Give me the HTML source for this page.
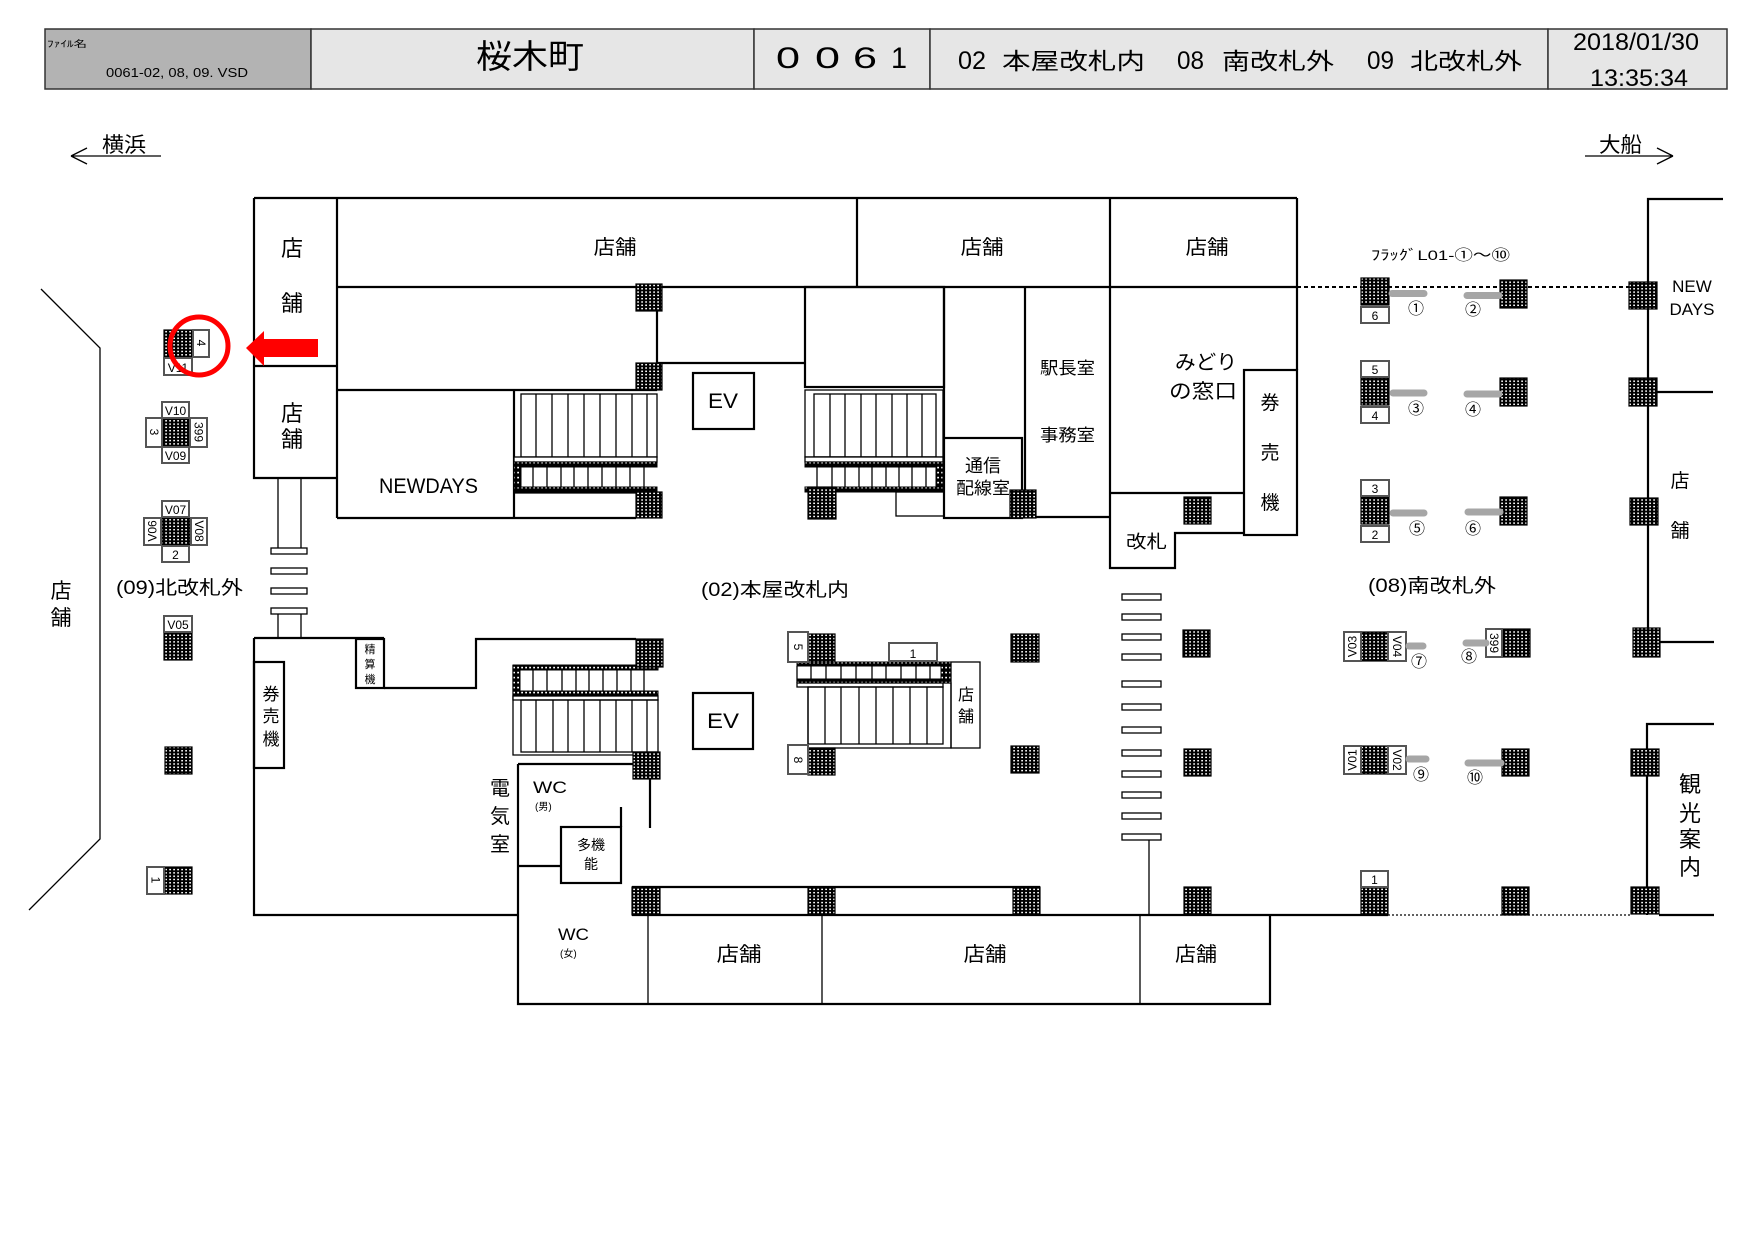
<!DOCTYPE html>
<html><head><meta charset="utf-8"><style>
html,body{margin:0;padding:0;background:#fff;}
svg{display:block;}
text{font-family:"Liberation Sans","Noto Sans CJK JP",sans-serif;fill:#000;}
.w{stroke:#000;stroke-width:2.2;fill:none;}
.t{stroke:#000;stroke-width:1.3;fill:none;}
.tw{stroke:#000;stroke-width:1.3;fill:#fff;}
.p{fill:url(#d);stroke:#000;stroke-width:1.2;}
.dt{fill:url(#d2);stroke:#000;stroke-width:1;}
.lb{fill:#fff;stroke:#555;stroke-width:2;}
.fb{stroke:#a6a6a6;stroke-width:7;stroke-linecap:round;fill:none;}
.c{text-anchor:middle;}
</style></head><body>
<svg width="1757" height="1243" viewBox="0 0 1757 1243" xmlns="http://www.w3.org/2000/svg">
<defs>
<pattern id="d" width="4" height="3.3" patternUnits="userSpaceOnUse"><rect width="4" height="3.3" fill="#000"/><rect x="1.2" y="1" width="1.8" height="1.4" fill="#fff"/></pattern>
<pattern id="d2" width="4" height="5" patternUnits="userSpaceOnUse"><rect width="4" height="5" fill="#000"/><rect x="1.2" y="1.8" width="1.8" height="1.6" fill="#fff"/></pattern>
</defs>
<rect width="1757" height="1243" fill="#fff"/>

<!-- HEADER -->
<rect x="45" y="29" width="266" height="60" fill="#b3b3b3" stroke="#333" stroke-width="1.5"/>
<rect x="311" y="29" width="443" height="60" fill="#e6e6e6" stroke="#333" stroke-width="1.5"/>
<rect x="754" y="29" width="176" height="60" fill="#e6e6e6" stroke="#333" stroke-width="1.5"/>
<rect x="930" y="29" width="618" height="60" fill="#e6e6e6" stroke="#333" stroke-width="1.5"/>
<rect x="1548" y="29" width="179" height="60" fill="#e6e6e6" stroke="#333" stroke-width="1.5"/>
<text x="47" y="47" font-size="9" textLength="40" lengthAdjust="spacingAndGlyphs">ﾌｧｲﾙ名</text>
<text x="106" y="77" font-size="13" textLength="142" lengthAdjust="spacingAndGlyphs">0061-02, 08, 09. VSD</text>
<text x="476" y="68" font-size="33" textLength="108" lengthAdjust="spacingAndGlyphs">桜木町</text>
<text x="776" y="68" font-size="30" textLength="24" lengthAdjust="spacingAndGlyphs">0</text>
<text x="815" y="68" font-size="30" textLength="25" lengthAdjust="spacingAndGlyphs">0</text>
<text x="853" y="68" font-size="30" textLength="24" lengthAdjust="spacingAndGlyphs">6</text>
<text x="891" y="68" font-size="30" textLength="16" lengthAdjust="spacingAndGlyphs">1</text>
<text x="958" y="69" font-size="25" textLength="28" lengthAdjust="spacingAndGlyphs">02</text>
<text x="1002" y="69" font-size="23" textLength="143" lengthAdjust="spacingAndGlyphs">本屋改札内</text>
<text x="1177" y="69" font-size="25" textLength="27" lengthAdjust="spacingAndGlyphs">08</text>
<text x="1222" y="69" font-size="23" textLength="112" lengthAdjust="spacingAndGlyphs">南改札外</text>
<text x="1367" y="69" font-size="25" textLength="27" lengthAdjust="spacingAndGlyphs">09</text>
<text x="1410" y="69" font-size="23" textLength="112" lengthAdjust="spacingAndGlyphs">北改札外</text>
<text x="1573" y="50" font-size="24" textLength="126" lengthAdjust="spacingAndGlyphs">2018/01/30</text>
<text x="1590" y="86" font-size="24" textLength="98" lengthAdjust="spacingAndGlyphs">13:35:34</text>

<!-- direction arrows -->
<text x="102" y="152" font-size="21" textLength="44" lengthAdjust="spacingAndGlyphs">横浜</text>
<path class="t" d="M71,156 H161 M71,156 L87,148 M71,156 L87,164"/>
<text x="1599" y="152" font-size="21" textLength="43" lengthAdjust="spacingAndGlyphs">大船</text>
<path class="t" d="M1585,156 H1673 M1673,156 L1657,148 M1673,156 L1657,164"/>

<!-- left exterior wall -->
<path class="t" d="M41,289 L100,348 V839 L29,910"/>
<text class="c" x="61" y="598" font-size="21">店</text>
<text class="c" x="61" y="625" font-size="21">舗</text>

<!-- TOP BUILDING -->
<path class="w" d="M254,198 H1297 M254,198 V478 H337 M254,366 H337 M337,198 V518 M337,287 H1297 M857,198 V287 M1110,198 V568 H1175 V533 H1244 M1297,198 V370"/>
<rect class="w" x="1244" y="370" width="53" height="165"/>
<path class="w" d="M1110,493 H1244"/>
<path class="w" d="M657,311 V363 H805 M337,390 H657 M337,518 H636 M514,390 V518"/>
<rect class="w" x="805" y="287" width="139" height="100"/>
<path class="w" d="M944,287 V438 M1025,287 V517 H1110"/>
<rect class="w" x="944" y="438" width="78" height="80"/>
<rect class="t" x="896" y="492" width="48" height="24"/>
<rect class="w" x="693" y="373" width="61" height="56"/>

<!-- upper-left stair -->
<rect class="t" x="521" y="394" width="136" height="63"/>
<path class="t" d="M536,394V457M552,394V457M568,394V457M584,394V457M600,394V457M616,394V457M632,394V457M647,394V457"/>
<rect class="tw" x="514" y="457" width="143" height="5"/>
<rect class="dt" x="514" y="462" width="143" height="5"/>
<rect class="dt" x="514" y="462" width="7" height="30"/>
<path class="t" d="M533,467V487M547,467V487M561,467V487M574,467V487M588,467V487M602,467V487M616,467V487M630,467V487M644,467V487"/>
<rect class="dt" x="514" y="487" width="143" height="5"/>
<path class="t" d="M514,493 H636"/>

<!-- upper-right stair -->
<rect class="t" x="805" y="390" width="138" height="67"/>
<rect class="t" x="814" y="394" width="122" height="63"/>
<path class="t" d="M830,394V457M845,394V457M861,394V457M876,394V457M892,394V457M907,394V457M922,394V457"/>
<rect class="tw" x="805" y="457" width="138" height="5"/>
<rect class="dt" x="805" y="462" width="138" height="5"/>
<rect class="dt" x="936" y="462" width="7" height="30"/>
<path class="t" d="M817,467V487M832,467V487M845,467V487M859,467V487M872,467V487M886,467V487M899,467V487M912,467V487M926,467V487"/>
<rect class="dt" x="805" y="487" width="138" height="5"/>

<!-- dashed line -->
<path d="M1297,287 H1630" stroke="#000" stroke-width="2" stroke-dasharray="4 3" fill="none"/>

<!-- posts between buildings -->
<path class="t" d="M278,478 V548 M301,478 V548 M278,614 V638 M301,614 V638"/>
<rect class="tw" x="271" y="548" width="36" height="6"/>
<rect class="tw" x="271" y="568" width="36" height="6"/>
<rect class="tw" x="271" y="588" width="36" height="6"/>
<rect class="tw" x="271" y="608" width="36" height="6"/>

<!-- turnstile bars -->
<g>
<rect class="tw" x="1122" y="594" width="39" height="6"/>
<rect class="tw" x="1122" y="614" width="39" height="6"/>
<rect class="tw" x="1122" y="634" width="39" height="6"/>
<rect class="tw" x="1122" y="654" width="39" height="6"/>
<rect class="tw" x="1122" y="681" width="39" height="6"/>
<rect class="tw" x="1122" y="704" width="39" height="6"/>
<rect class="tw" x="1122" y="727" width="39" height="6"/>
<rect class="tw" x="1122" y="750" width="39" height="6"/>
<rect class="tw" x="1122" y="771" width="39" height="6"/>
<rect class="tw" x="1122" y="792" width="39" height="6"/>
<rect class="tw" x="1122" y="813" width="39" height="6"/>
<rect class="tw" x="1122" y="834" width="39" height="6"/>
</g>
<path class="t" d="M1149,840 V915"/>

<!-- LOWER BUILDING -->
<path class="w" d="M254,638 H384 M384,688 H476 V639 H636 M254,638 V915 H518"/>
<rect class="w" x="356" y="639" width="28" height="49"/>
<rect class="w" x="254" y="662" width="30" height="106"/>
<path class="w" d="M518,764 V1004 H1270 V915 M518,764 H633"/>
<path class="w" d="M650,779 V828 M621,807 V827 M518,866 H561"/>
<rect class="w" x="561" y="827" width="60" height="56"/>
<path class="w" d="M632,887 H1040 M632,915 H1388"/>
<path class="t" d="M648,915 V1004 M822,915 V1004 M1140,915 V1004"/>
<path d="M1388,915 H1631" stroke="#000" stroke-width="1.3" stroke-dasharray="2 2" fill="none"/>
<path class="w" d="M1659,915 H1714"/>
<rect class="w" x="693" y="693" width="60" height="56"/>

<!-- lower-left stair -->
<path class="t" d="M513,665 V755 H634"/>
<rect class="dt" x="513" y="665" width="145" height="5"/>
<rect class="dt" x="513" y="665" width="7" height="31"/>
<path class="t" d="M533,670V691M547,670V691M562,670V691M576,670V691M589,670V691M603,670V691M617,670V691M631,670V691M644,670V691"/>
<rect class="dt" x="513" y="691" width="145" height="5"/>
<rect class="tw" x="513" y="696" width="145" height="4"/>
<rect class="t" x="521" y="700" width="137" height="52"/>
<path class="t" d="M536,700V752M553,700V752M568,700V752M584,700V752M600,700V752M616,700V752M632,700V752M647,700V752"/>

<!-- center stair -->
<rect class="t" x="808" y="683" width="143" height="65"/>
<rect class="dt" x="797" y="662" width="154" height="4"/>
<path class="t" d="M811,666V679M826,666V679M841,666V679M856,666V679M872,666V679M886,666V679M901,666V679M916,666V679M930,666V679M797,666V683"/>
<rect class="dt" x="941" y="662" width="10" height="21"/>
<rect class="dt" x="797" y="679" width="154" height="4"/>
<rect class="tw" x="797" y="683" width="146" height="4"/>
<rect class="t" x="808" y="687" width="135" height="57"/>
<path class="t" d="M825,687V744M841,687V744M859,687V744M876,687V744M893,687V744M910,687V744M927,687V744"/>
<rect class="t" x="951" y="662" width="29" height="86"/>
<rect class="lb" x="889" y="643" width="48" height="18"/>
<text class="c" x="913" y="658" font-size="12">1</text>

<!-- RIGHT BUILDING -->
<path class="w" d="M1723,199 H1648 V647 M1657,392 H1713 M1660,642 H1714 M1714,724 H1647 V915"/>

<!-- PILLARS -->
<g>
<rect class="p" x="636" y="284" width="26" height="27"/>
<rect class="p" x="636" y="363" width="26" height="27"/>
<rect class="p" x="636" y="492" width="26" height="26"/>
<rect class="p" x="808" y="487" width="28" height="32"/>
<rect class="p" x="1010" y="490" width="26" height="28"/>
<rect class="p" x="1184" y="497" width="27" height="27"/>
<rect class="p" x="636" y="639" width="27" height="28"/>
<rect class="p" x="633" y="752" width="27" height="27"/>
<rect class="p" x="632" y="887" width="28" height="28"/>
<rect class="p" x="808" y="887" width="27" height="28"/>
<rect class="p" x="1013" y="887" width="27" height="28"/>
<rect class="p" x="808" y="634" width="27" height="28"/>
<rect class="p" x="808" y="748" width="27" height="27"/>
<rect class="p" x="1011" y="634" width="28" height="28"/>
<rect class="p" x="1011" y="746" width="28" height="27"/>
<rect class="p" x="1183" y="630" width="27" height="27"/>
<rect class="p" x="1184" y="749" width="27" height="27"/>
<rect class="p" x="1184" y="887" width="27" height="27"/>
<rect class="p" x="1361" y="278" width="28" height="27"/>
<rect class="p" x="1361" y="378" width="28" height="27"/>
<rect class="p" x="1361" y="497" width="28" height="27"/>
<rect class="p" x="1361" y="632" width="27" height="29"/>
<rect class="p" x="1361" y="746" width="27" height="28"/>
<rect class="p" x="1361" y="887" width="27" height="28"/>
<rect class="p" x="1500" y="280" width="27" height="28"/>
<rect class="p" x="1500" y="378" width="27" height="28"/>
<rect class="p" x="1500" y="497" width="27" height="28"/>
<rect class="p" x="1502" y="629" width="28" height="28"/>
<rect class="p" x="1502" y="749" width="27" height="27"/>
<rect class="p" x="1502" y="887" width="27" height="28"/>
<rect class="p" x="1629" y="282" width="28" height="27"/>
<rect class="p" x="1629" y="378" width="28" height="28"/>
<rect class="p" x="1630" y="498" width="28" height="27"/>
<rect class="p" x="1633" y="628" width="27" height="29"/>
<rect class="p" x="1631" y="749" width="28" height="27"/>
<rect class="p" x="1631" y="887" width="28" height="27"/>
<!-- exterior left column -->
<rect class="p" x="164" y="330" width="28" height="27"/>
<rect class="p" x="163" y="418" width="27" height="29"/>
<rect class="p" x="162" y="518" width="28" height="27"/>
<rect class="p" x="164" y="633" width="28" height="27"/>
<rect class="p" x="165" y="747" width="27" height="27"/>
<rect class="p" x="165" y="867" width="27" height="27"/>
</g>

<!-- pillar labels -->
<g font-size="12">
<rect class="lb" x="193" y="330" width="16" height="27"/>
<text class="c" font-size="12" transform="translate(201,343) rotate(90)" y="4">4</text>
<rect class="lb" x="164" y="358" width="28" height="17"/>
<text class="c" x="178" y="372" font-size="12">V11</text>
<rect class="lb" x="162" y="402" width="27" height="16"/>
<text class="c" x="175.5" y="415" font-size="12">V10</text>
<rect class="lb" x="162" y="447" width="27" height="16"/>
<text class="c" x="175.5" y="460" font-size="12">V09</text>
<rect class="lb" x="146" y="418" width="16" height="29"/>
<text class="c" transform="translate(154,432) rotate(90)" y="4" font-size="12">3</text>
<rect class="lb" x="190" y="418" width="17" height="29"/>
<text class="c" transform="translate(198.5,432) rotate(90)" y="4" font-size="12">399</text>
<rect class="lb" x="162" y="501" width="27" height="16"/>
<text class="c" x="175.5" y="514" font-size="12">V07</text>
<rect class="lb" x="162" y="546" width="27" height="16"/>
<text class="c" x="175.5" y="559" font-size="12">2</text>
<rect class="lb" x="144" y="518" width="17" height="27"/>
<text class="c" transform="translate(152.5,531) rotate(-90)" y="4" font-size="12">V06</text>
<rect class="lb" x="191" y="518" width="16" height="27"/>
<text class="c" transform="translate(199,531) rotate(90)" y="4" font-size="12">V08</text>
<rect class="lb" x="164" y="616" width="28" height="16"/>
<text class="c" x="178" y="629" font-size="12">V05</text>
<rect class="lb" x="147" y="867" width="17" height="27"/>
<text class="c" transform="translate(155.5,880) rotate(90)" y="4" font-size="12">1</text>

<rect class="lb" x="788" y="632" width="20" height="30"/>
<text class="c" transform="translate(798,647) rotate(90)" y="4" font-size="12">5</text>
<rect class="lb" x="788" y="745" width="20" height="29"/>
<text class="c" transform="translate(798,760) rotate(90)" y="4" font-size="12">8</text>

<rect class="lb" x="1361" y="307" width="28" height="16"/>
<text class="c" x="1375" y="320" font-size="12">6</text>
<rect class="lb" x="1361" y="361" width="28" height="16"/>
<text class="c" x="1375" y="374" font-size="12">5</text>
<rect class="lb" x="1361" y="407" width="28" height="16"/>
<text class="c" x="1375" y="420" font-size="12">4</text>
<rect class="lb" x="1361" y="480" width="28" height="16"/>
<text class="c" x="1375" y="493" font-size="12">3</text>
<rect class="lb" x="1361" y="526" width="28" height="16"/>
<text class="c" x="1375" y="539" font-size="12">2</text>
<rect class="lb" x="1361" y="871" width="27" height="16"/>
<text class="c" x="1374.5" y="884" font-size="12">1</text>

<rect class="lb" x="1344" y="632" width="17" height="29"/>
<text class="c" transform="translate(1352.5,646.5) rotate(-90)" y="4" font-size="12">V03</text>
<rect class="lb" x="1388" y="632" width="18" height="29"/>
<text class="c" transform="translate(1397,646.5) rotate(90)" y="4" font-size="12">V04</text>
<rect class="lb" x="1344" y="746" width="17" height="28"/>
<text class="c" transform="translate(1352.5,760) rotate(-90)" y="4" font-size="12">V01</text>
<rect class="lb" x="1388" y="746" width="18" height="28"/>
<text class="c" transform="translate(1397,760) rotate(90)" y="4" font-size="12">V02</text>
<rect class="lb" x="1486" y="629" width="16" height="28"/>
<text class="c" transform="translate(1494,643) rotate(90)" y="4" font-size="12">399</text>
</g>

<!-- flag bars -->
<path class="fb" d="M1392,293.5H1424 M1467,295.5H1499 M1393,393H1424 M1467,394H1499 M1393,513H1424 M1468,512H1500 M1409,646H1423 M1466,643H1486 M1409,759H1426 M1468,763H1501"/>
<g font-size="16">
<text class="c" x="1416" y="314">①</text>
<text class="c" x="1473" y="315">②</text>
<text class="c" x="1416" y="414">③</text>
<text class="c" x="1473" y="415">④</text>
<text class="c" x="1417" y="534">⑤</text>
<text class="c" x="1473" y="534">⑥</text>
<text class="c" x="1419" y="667">⑦</text>
<text class="c" x="1469" y="662">⑧</text>
<text class="c" x="1421" y="780">⑨</text>
<text class="c" x="1475" y="783">⑩</text>
</g>

<!-- red marker -->
<circle cx="199" cy="346" r="29" fill="none" stroke="#ff0000" stroke-width="5"/>
<polygon points="246,348 264,331 264,339 318,339 318,357 264,357 264,366" fill="#ff0000"/>

<!-- LABELS -->
<text class="c" x="615" y="254" font-size="20" textLength="43" lengthAdjust="spacingAndGlyphs">店舗</text>
<text class="c" x="982" y="254" font-size="20" textLength="43" lengthAdjust="spacingAndGlyphs">店舗</text>
<text class="c" x="1207" y="254" font-size="20" textLength="43" lengthAdjust="spacingAndGlyphs">店舗</text>
<text class="c" x="292" y="256" font-size="22">店</text>
<text class="c" x="292" y="311" font-size="22">舗</text>
<text class="c" x="292" y="421" font-size="22">店</text>
<text class="c" x="292" y="447" font-size="22">舗</text>
<text x="379" y="493" font-size="21" textLength="99" lengthAdjust="spacingAndGlyphs">NEWDAYS</text>
<text x="708" y="408" font-size="21" textLength="30" lengthAdjust="spacingAndGlyphs">EV</text>
<text x="707" y="728" font-size="21" textLength="32" lengthAdjust="spacingAndGlyphs">EV</text>
<text x="1040" y="374" font-size="17" textLength="55" lengthAdjust="spacingAndGlyphs">駅長室</text>
<text x="1040" y="441" font-size="17" textLength="55" lengthAdjust="spacingAndGlyphs">事務室</text>
<text x="965" y="472" font-size="18" textLength="36" lengthAdjust="spacingAndGlyphs">通信</text>
<text x="956" y="494" font-size="17" textLength="54" lengthAdjust="spacingAndGlyphs">配線室</text>
<text x="1175" y="369" font-size="20" textLength="62" lengthAdjust="spacingAndGlyphs">みどり</text>
<text x="1169" y="398" font-size="20" textLength="68" lengthAdjust="spacingAndGlyphs">の窓口</text>
<text class="c" x="1270" y="409" font-size="19">券</text>
<text class="c" x="1270" y="459" font-size="19">売</text>
<text class="c" x="1270" y="509" font-size="19">機</text>
<text x="1126" y="548" font-size="18" textLength="41" lengthAdjust="spacingAndGlyphs">改札</text>
<text x="701" y="596" font-size="19" textLength="148" lengthAdjust="spacingAndGlyphs">(02)本屋改札内</text>
<text x="116" y="594" font-size="19" textLength="127" lengthAdjust="spacingAndGlyphs">(09)北改札外</text>
<text x="1368" y="592" font-size="19" textLength="128" lengthAdjust="spacingAndGlyphs">(08)南改札外</text>
<text x="1371" y="260" font-size="14" textLength="139" lengthAdjust="spacingAndGlyphs">ﾌﾗｯｸﾞL01-①～⑩</text>
<text class="c" x="1692" y="292" font-size="17">NEW</text>
<text class="c" x="1692" y="315" font-size="17">DAYS</text>
<text class="c" x="1680" y="487" font-size="19">店</text>
<text class="c" x="1680" y="537" font-size="19">舗</text>
<text class="c" x="1690" y="792" font-size="22">観</text>
<text class="c" x="1690" y="821" font-size="22">光</text>
<text class="c" x="1690" y="847" font-size="22">案</text>
<text class="c" x="1690" y="875" font-size="22">内</text>
<text class="c" x="271" y="700" font-size="17">券</text>
<text class="c" x="271" y="722" font-size="17">売</text>
<text class="c" x="271" y="745" font-size="17">機</text>
<text class="c" x="370" y="653" font-size="11">精</text>
<text class="c" x="370" y="668" font-size="11">算</text>
<text class="c" x="370" y="683" font-size="11">機</text>
<text class="c" x="500" y="795" font-size="20">電</text>
<text class="c" x="500" y="823" font-size="20">気</text>
<text class="c" x="500" y="851" font-size="20">室</text>
<text x="533" y="793" font-size="17" textLength="34" lengthAdjust="spacingAndGlyphs">WC</text>
<text x="535" y="810" font-size="10">(男)</text>
<text class="c" x="591" y="850" font-size="14">多機</text>
<text class="c" x="591" y="869" font-size="14">能</text>
<text x="558" y="940" font-size="17" textLength="31" lengthAdjust="spacingAndGlyphs">WC</text>
<text x="560" y="957" font-size="10">(女)</text>
<text class="c" x="739" y="961" font-size="20" textLength="45" lengthAdjust="spacingAndGlyphs">店舗</text>
<text class="c" x="985" y="961" font-size="20" textLength="43" lengthAdjust="spacingAndGlyphs">店舗</text>
<text class="c" x="1196" y="961" font-size="20" textLength="42" lengthAdjust="spacingAndGlyphs">店舗</text>
<text class="c" x="966" y="700" font-size="16">店</text>
<text class="c" x="966" y="722" font-size="16">舗</text>
</svg>
</body></html>
